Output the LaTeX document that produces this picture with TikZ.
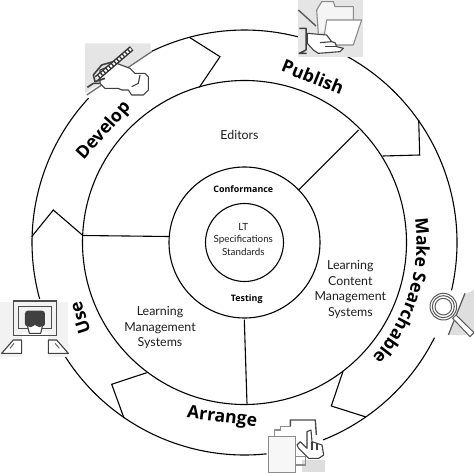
\documentclass[tikz,border=0pt]{standalone}
\usepackage{fontspec}
\setmainfont{Lato}
\newfontfamily\stagefont{Open Sans}
\usetikzlibrary{decorations.text}
\tikzset{
  ring/.style={draw=black,line width=1.1pt},
  lab/.style={text=black!88,align=center,inner sep=0pt,font=\fontsize{12.4}{15.5}\selectfont},
  smalllab/.style={text=black!88,align=center,inner sep=0pt,font=\fontsize{9.8}{12.5}\selectfont},
  boldsmall/.style={text=black,inner sep=0pt,font=\stagefont\bfseries\fontsize{8.9}{12}\selectfont},
  stage/.style={text=black,inner sep=0pt,font=\stagefont\bfseries\fontsize{17.6}{18}\selectfont},
  icon/.style={shift={#1},x=0.3333pt,y=-0.3333pt},
  dk/.style={draw=black!75,line width=1.1pt,line join=round},
  gr/.style={draw=black!45,line width=1.1pt,line join=round},
}
\begin{document}
\begin{tikzpicture}[x=1pt,y=-1pt]
\useasboundingbox (0,0) rectangle (474,473);
\fill[white] (0,0) rectangle (474,473);
% outer ring with gaps for the icons
\begin{scope}[shift={(244.5,242.5)}]
\draw[ring] (84:212.5) arc[start angle=84,end angle=148.2,radius=212.5];
\draw[ring] (164.6:212.5) arc[start angle=164.6,end angle=222.8,radius=212.5];
\draw[ring] (-75.4:212.5) arc[start angle=-75.4,end angle=-115.9,radius=212.5];
\draw[ring] (-61.1:212.5) arc[start angle=-61.1,end angle=13,radius=212.5];
\draw[ring] (26.6:212.5) arc[start angle=26.6,end angle=68.3,radius=212.5];
\draw[ring] (0,0) circle[radius=162];
\draw[ring] (0,0) circle[radius=75.5];
\draw[ring] (0,0) circle[radius=39];
\end{scope}
% chevrons between the stages
\draw[ring,line join=miter] (31.7,236.7) -- (53.3,210) -- (82.3,235);
\draw[ring,line join=miter] (190,37.7) -- (220,56.7) -- (199.3,87.3);
\draw[ring,line join=miter] (418.7,120) -- (419.7,155) -- (382.7,156);
\draw[ring,line join=miter] (343,371.3) -- (331.3,406) -- (366,417);
\draw[ring,line join=miter] (146.7,372.7) -- (111.7,384.3) -- (124,418);
% spokes
\draw[ring] (82.5,235.5) -- (169,236.5);
\draw[ring] (358.7,130) -- (298.7,190);
\draw[ring] (244.3,319.7) -- (247,403.7);
% texts
\node[lab] (editors) at (239.5,135) {Editors};
\node[lab] (lms) at (160,327.7) {Learning\\Management\\Systems};
\node[lab] (lcms) at (350.3,289.7) {Learning\\Content\\Management\\Systems};
\node[smalllab] (lt) at (243.3,239.3) {LT\\Specifications\\Standards};
\node[boldsmall] (conf) at (243.3,189.3) {Conformance};
\node[boldsmall] (test) at (246.7,299) {Testing};
\node[stage,rotate=48] (develop) at (104,131) {Develop};
\node[stage,rotate=-22] (publish) at (313,77) {Publish};
\node[stage,rotate=108] (use) at (80,318) {Use};
\node[stage,rotate=-7] (arrange) at (222,418) {Arrange};
\begin{scope}[shift={(244.5,242.5)}]
\path[decorate,decoration={text along path,text align=center,
  text={|\stagefont\bfseries\fontsize{17.6}{18}\selectfont|Make Searchable}}]
  (-14:172) arc[start angle=-14,end angle=48,radius=172];
\end{scope}
% Develop icon
\begin{scope}[icon={(80,40)}]
\fill[black!10] (15,10) -- (212,10) -- (212,35) -- (15,160) -- cycle;
\draw[black!55,line width=1.4pt] (215,35) -- (20,165);
\draw[dk,fill=white] (60,130) -- (75,145) -- (115,145) -- (125,150) -- (145,150) -- (155,165) -- (190,165) -- (205,150) -- (205,110) -- (195,100) -- (165,100) -- (150,85) -- (110,70) -- (60,90) -- cycle;
\draw[dk] (180,105) -- (175,130) -- (155,140);
\draw[black!80,line width=5.5pt] (50,115) -- (155,25);
\draw[white,line width=2.6pt,dash pattern=on 2pt off 1.6pt] (50,115) -- (155,25);
\draw[dk,line width=1.6pt] (40,105) -- (65,75) -- (100,65);
\draw[dk,line width=1.6pt] (40,105) -- (45,125) -- (75,115);
\draw[dk,line width=1.6pt] (60,130) -- (40,130) -- (22,142);
\end{scope}
% Publish icon
\begin{scope}[icon={(290,0)}]
\fill[black!10] (25,0) rectangle (220,170);
\draw[gr,fill=black!4] (85,100) -- (80,30) -- (95,5) -- (130,5) -- (135,20) -- (190,20) -- (190,60);
\draw[gr,fill=white] (100,125) -- (110,60) -- (215,60) -- (190,135) -- (130,135);
\draw[black!65,line width=1.4pt] (25,30) -- (78,78);
\draw[dk,fill=white] (52,100) -- (110,105) -- (125,125) -- (135,128) -- (140,140) -- (160,145) -- (150,155) -- (85,160) -- (70,150) -- (52,130) -- cycle;
\draw[dk,line width=1.5pt] (28,85) -- (48,85) -- (48,150) -- (28,160) -- (50,160);
\draw[dk] (90,128) -- (125,125);
\draw[dk] (105,140) -- (140,140);
\end{scope}
% Use icon
\begin{scope}[icon={(0,295)}]
\fill[black!5] (0,20) rectangle (205,185);
\fill[white] (65,110) rectangle (145,185);
\draw[black!70,line width=1.5pt] (40,18) rectangle (170,122);
\draw[black!70,line width=1.5pt] (55,35) rectangle (155,100);
\fill[black!75,rounded corners=3pt] (75,47) rectangle (135,95);
\draw[dk,fill=white] (82,90) -- (88,115) -- (122,115) -- (128,90) -- (118,95) -- (105,88) -- (92,95) -- cycle;
\draw[dk,fill=white] (5,175) -- (40,135) -- (65,135) -- (65,175) -- cycle;
\draw[dk,fill=white] (145,135) -- (170,135) -- (205,175) -- (145,175) -- cycle;
\draw[black!60,line width=1pt] (30,160) -- (42,145);
\draw[black!60,line width=1pt] (165,145) -- (178,160);
\end{scope}
% Make Searchable icon
\begin{scope}[icon={(420,285)}]
\fill[black!13] (130,30) -- (162,15) -- (162,150) -- (85,150) -- cycle;
\draw[black!65,line width=1.2pt] (135,25) -- (85,150);
\draw[black!65,fill=white,line width=1pt] (98,100) -- (150,155) -- (162,143) -- (108,90) -- cycle;
\draw[black!65,fill=white,line width=1pt] (70,65) circle[radius=40];
\draw[black!65,line width=1pt] (70,65) circle[radius=33];
\draw[black!65,line width=1pt] (70,65) circle[radius=25];
\end{scope}
% Arrange icon
\begin{scope}[icon={(262,415)}]
\fill[black!13] (120,135) rectangle (190,172);
\draw[black!70,line width=1.4pt] (85,35) -- (85,15) -- (160,15) -- (163,60);
\draw[gr] (38,65) -- (38,45) -- (55,45) -- (55,35) -- (85,35);
\draw[gr] (100,125) -- (130,125) -- (130,150) -- (100,150);
\draw[gr,fill=black!3] (20,65) rectangle (100,172);
\draw[dk,fill=white] (135,100) -- (135,50) -- (147,45) -- (150,80) -- (165,85) -- (180,90) -- (185,120) -- (170,130) -- (140,130) -- (110,100) -- (105,90) -- (115,80) -- cycle;
\draw[dk] (165,85) -- (165,105);
\draw[dk] (150,80) -- (150,105);
\end{scope}
\end{tikzpicture}
\end{document}
